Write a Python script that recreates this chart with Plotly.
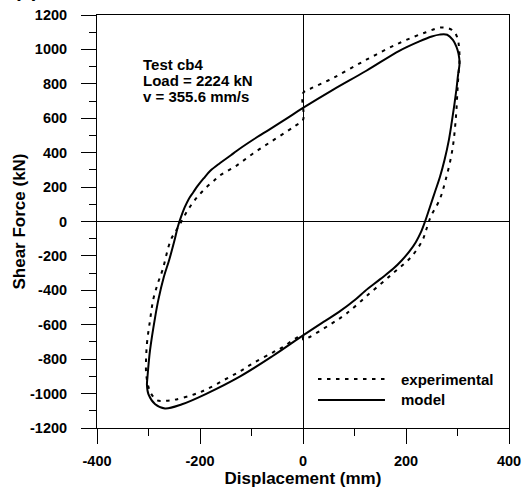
import plotly.graph_objects as go

# Hysteresis loop, test cb4: displacement (mm) vs shear force (kN)
disp_model = [-303, -302, -297, -287, -281, -270, -260, -250, -243, -237,
              -230, -222, -213, -205, -193, -180, -161, -140, -129, -97,
              -64, -32, 0, 58, 123, 187, 226, 250, 265, 280,
              291, 298, 302, 304, 301, 298, 294, 289, 283, 275,
              266, 256, 246, 237, 229, 219, 207, 192, 175, 150,
              120, 103, 70, 39, 0, -58, -122, -187, -235, -268,
              -287, -300, -303]
force_model = [-950, -904, -748, -554, -457, -320, -225, -115, -30, 25,
               80, 130, 170, 205, 250, 295, 340, 385, 410, 475,
               537, 598, 660, 765, 876, 992, 1047, 1075, 1086, 1085,
               1055, 1015, 975, 920, 850, 770, 680, 580, 470, 360,
               260, 170, 80, 0, -62, -120, -172, -225, -275, -335,
               -405, -450, -525, -585, -662, -780, -900, -1000, -1062, -1086,
               -1062, -1005, -950]

disp_exp = [-305, -303, -297, -291, -282, -273, -257, -246, -236, -226,
            -215, -203, -187, -170, -161, -129, -97, -64, -32, -13,
            0, 0, 13, 58, 123, 187, 239, 271, 291, 300,
            303, 304, 302, 300, 297, 290, 277, 265, 248, 239,
            232, 210, 174, 129, 84, 52, 10, 0, 0, -15,
            -38, -58, -96, -122, -154, -187, -212, -250, -270, -284,
            -295, -300, -304, -305]
force_exp = [-846, -710, -574, -457, -360, -284, -109, -51, 0, 55,
             105, 150, 200, 245, 268, 325, 395, 460, 522, 560,
             590, 746, 769, 833, 940, 1037, 1100, 1128, 1110, 1066,
             1008, 940, 860, 766, 610, 416, 242, 125, 28, -50,
             -109, -206, -303, -419, -536, -600, -675, -685, -665, -680,
             -728, -760, -822, -870, -922, -975, -1005, -1036, -1042, -1038,
             -1000, -962, -900, -846]

x_ticks = [-400, -200, 0, 200, 400]
x_labels = ["-400", "-200", "0", "200", "400"]
y_ticks = list(range(-1200, 1201, 200))
y_labels = [str(v) for v in y_ticks]
info_lines = ["Test cb4", "Load = 2224 kN", "v = 355.6 mm/s"]
legend_names = ["experimental", "model"]

FONT = "Liberation Sans, Arial, sans-serif"
DOT = "3.5px,5.5px"

fig = go.Figure()
fig.add_trace(go.Scatter(x=disp_exp, y=force_exp, mode="lines", name=legend_names[0],
                         line=dict(color="black", width=2, dash=DOT, shape="spline", smoothing=1.0),
                         showlegend=False))
fig.add_trace(go.Scatter(x=disp_model, y=force_model, mode="lines", name=legend_names[1],
                         line=dict(color="black", width=2, shape="spline", smoothing=1.0),
                         showlegend=False))

axis_common = dict(
    showgrid=False, showline=True, linecolor="black", linewidth=1, mirror=True,
    zeroline=True, zerolinecolor="black", zerolinewidth=1,
    ticks="outside", ticklen=15, tickwidth=1, tickcolor="black",
    tickfont=dict(family=FONT, size=14.5, color="black", weight="bold"),
    minor=dict(ticks="outside", ticklen=7, tickwidth=1, tickcolor="black", dtick=100),
)

fig.update_xaxes(range=[-400, 400], tickvals=x_ticks, ticktext=x_labels,
                 ticklabelstandoff=5, **axis_common,
                 title=dict(text="Displacement (mm)", standoff=0,
                            font=dict(family=FONT, size=17, color="black", weight="bold")))
fig.update_yaxes(range=[-1200, 1200], tickvals=y_ticks, ticktext=y_labels,
                 ticklabelstandoff=11, **axis_common,
                 title=dict(text="Shear Force (kN)", standoff=0,
                            font=dict(family=FONT, size=17, color="black", weight="bold")))

annotations = []
for text, yp in zip(info_lines, [0.879, 0.841, 0.802]):
    annotations.append(dict(x=0.1075, y=yp, xref="paper", yref="paper", text=text,
                            showarrow=False, xanchor="left", yanchor="middle",
                            font=dict(family=FONT, size=15, color="black", weight="bold")))

# legend drawn by hand: line samples + labels
legend_y = [0.1186, 0.0678]
shapes = []
for name, yp, dash in zip(legend_names, legend_y, [DOT, "solid"]):
    shapes.append(dict(type="line", xref="paper", yref="paper", x0=0.5364, x1=0.699,
                       y0=yp, y1=yp, line=dict(color="black", width=2, dash=dash)))
    annotations.append(dict(x=0.733, y=yp, xref="paper", yref="paper", text=name,
                            showarrow=False, xanchor="left", yanchor="middle",
                            font=dict(family=FONT, size=15, color="black", weight="bold")))

# panel label, mostly above the top edge of the page
annotations.append(dict(x=-0.1735, y=1.061, xref="paper", yref="paper", text="(a)",
                        showarrow=False, xanchor="center", yanchor="middle",
                        font=dict(family=FONT, size=20, color="black", weight="bold")))

fig.update_layout(
    width=523, height=493,
    margin=dict(l=97, r=14, t=15, b=65, autoexpand=False),
    plot_bgcolor="white", paper_bgcolor="white",
    annotations=annotations, shapes=shapes,
    showlegend=False,
)

fig.write_html("out.html")
